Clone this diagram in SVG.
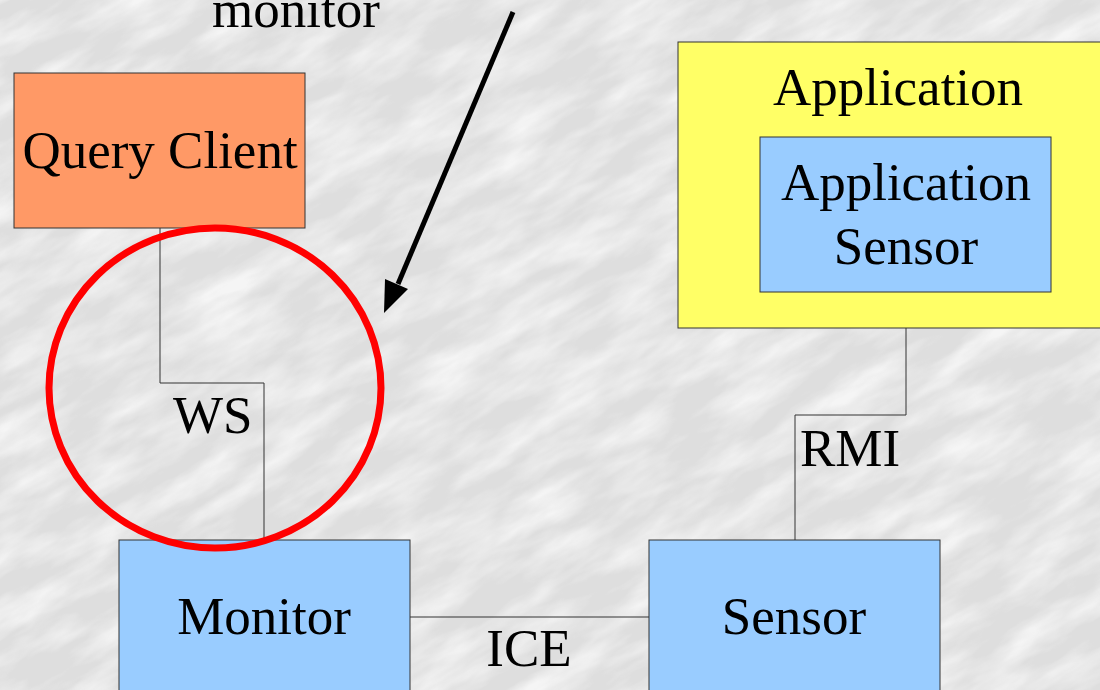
<svg xmlns="http://www.w3.org/2000/svg" width="1100" height="690" viewBox="0 0 1100 690">
<style>
text{font-family:'Liberation Serif','Times New Roman',Times,serif;font-size:53px;fill:#000}
.box{stroke:#333;stroke-width:1}
.blue{fill:#99ccff}
.conn{fill:none;stroke:#333;stroke-width:1}
</style>
<defs>
<filter id="marble" x="0" y="0" width="100%" height="100%">
<feTurbulence type="fractalNoise" baseFrequency="0.012 0.04" numOctaves="4" seed="3" result="n"/>
<feColorMatrix in="n" type="matrix" values="0 0 0 0 1  0 0 0 0 1  0 0 0 0 1  0 0 0 -2.0 1.3"/>
</filter>
</defs>
<rect width="1100" height="690" fill="#dedede"/>
<g transform="rotate(-30 550 345)"><rect x="-300" y="-300" width="1700" height="1300" filter="url(#marble)" opacity="0.7"/></g>
<text font-family="Liberation Serif, serif" x="296" y="27" text-anchor="middle">monitor</text>
<g id="connectors">
<path class="conn" d="M160,228 V383 H264 V540"/>
<path class="conn" d="M906,292 V415 H795 V540"/>
<path class="conn" d="M410,617 H649"/>
<line x1="513" y1="12" x2="398" y2="284" stroke="#000" stroke-width="5"/>
<polygon points="384,313 385,279 408,289" fill="#000"/>
<text font-family="Liberation Serif, serif" x="173" y="433">WS</text>
<text font-family="Liberation Serif, serif" x="800" y="466">RMI</text>
<text font-family="Liberation Serif, serif" x="529" y="666" text-anchor="middle">ICE</text>
</g>
<g id="query-client">
<rect class="box" x="14" y="73" width="291" height="155" fill="#ff9966"/>
<text font-family="Liberation Serif, serif" x="160" y="168" text-anchor="middle">Query Client</text>
</g>
<g id="application">
<rect class="box" x="678" y="42" width="430" height="286" fill="#ffff66"/>
<text font-family="Liberation Serif, serif" x="898" y="105" text-anchor="middle">Application</text>
</g>
<g id="application-sensor">
<rect class="box blue" x="760" y="137" width="291" height="155"/>
<text font-family="Liberation Serif, serif" x="906" y="200" text-anchor="middle">Application</text>
<text font-family="Liberation Serif, serif" x="906" y="264" text-anchor="middle">Sensor</text>
</g>
<g id="monitor">
<rect class="box blue" x="119" y="540" width="291" height="170"/>
<text font-family="Liberation Serif, serif" x="264" y="634" text-anchor="middle">Monitor</text>
</g>
<g id="sensor">
<rect class="box blue" x="649" y="540" width="291" height="170"/>
<text font-family="Liberation Serif, serif" x="794" y="634" text-anchor="middle">Sensor</text>
</g>
<g id="highlight">
<ellipse cx="215" cy="388" rx="166" ry="160" fill="none" stroke="#ff0000" stroke-width="7"/>
</g>
</svg>
